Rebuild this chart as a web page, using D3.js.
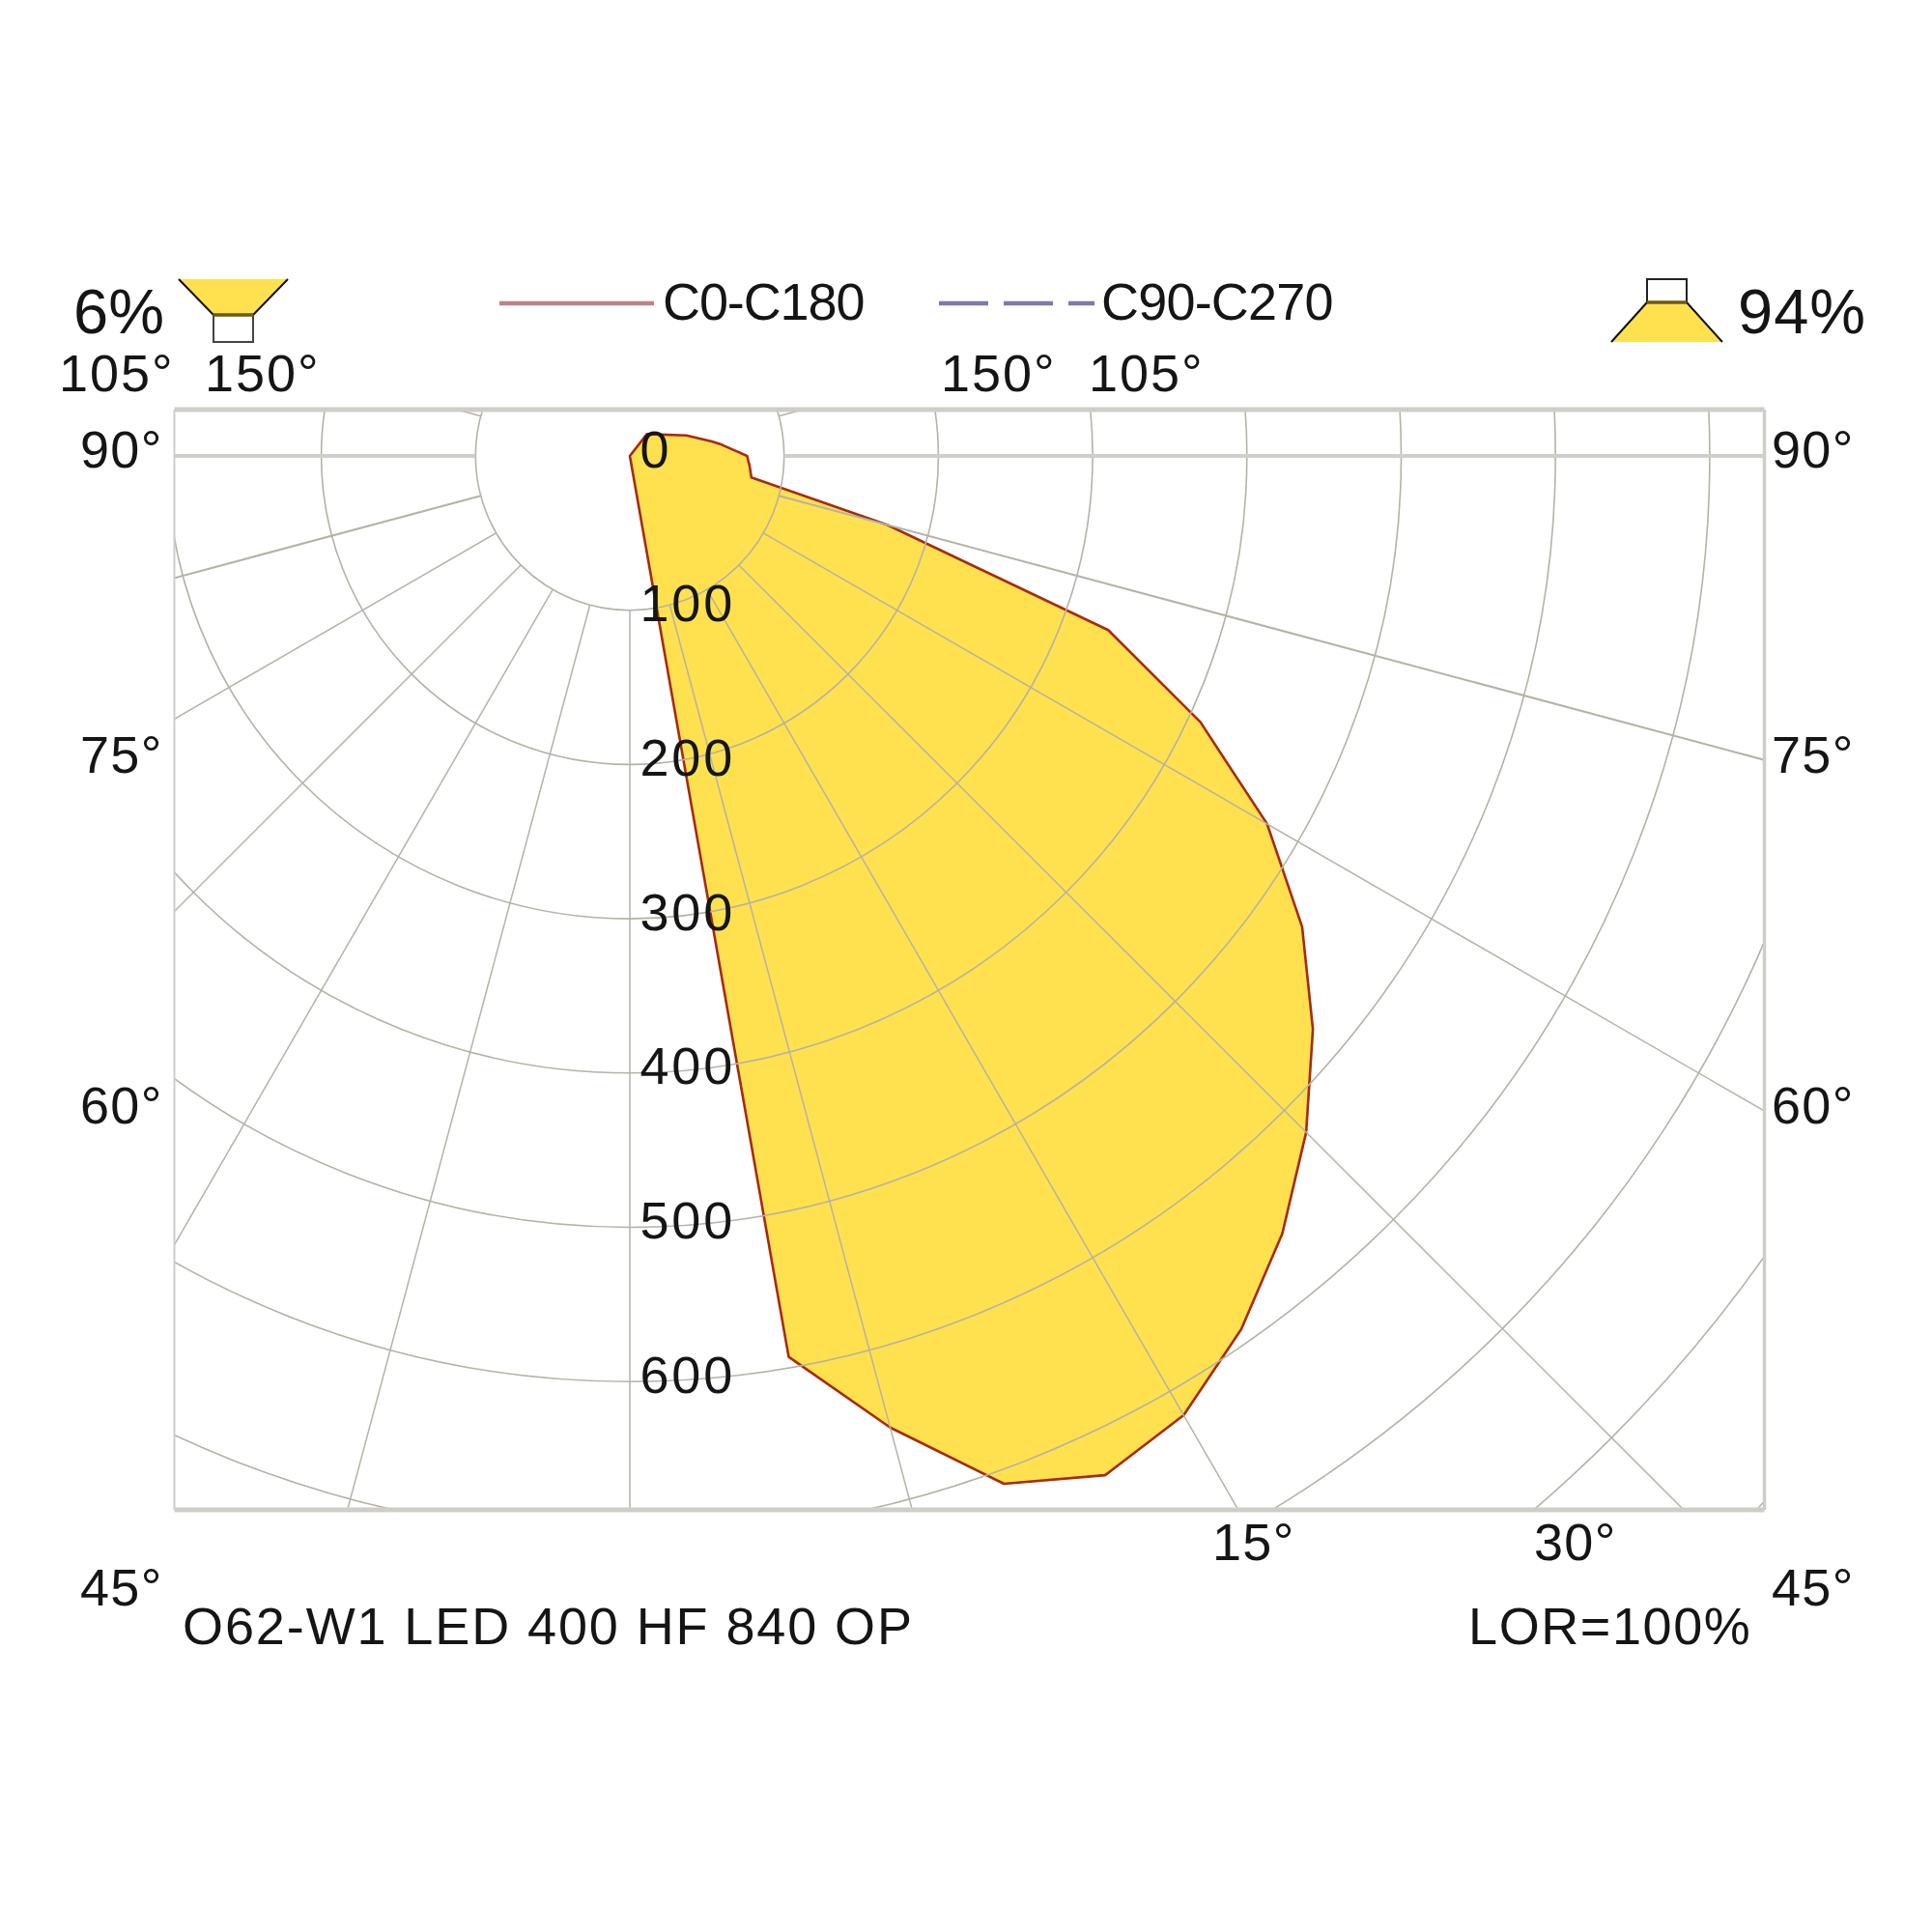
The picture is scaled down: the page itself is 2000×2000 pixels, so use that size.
<!DOCTYPE html>
<html><head><meta charset="utf-8">
<style>html,body{margin:0;background:#fff}svg{display:block}text{font-family:"Liberation Sans",Arial,sans-serif;fill:#151515}</style>
<script src="https://cdn.jsdelivr.net/npm/d3@7"></script></head><body>
<svg id="c" width="2000" height="2000"></svg>
<script>
const gammaDeg = [0,10,15,20,25,30,35,40,45,50,55,60,65,70,75,80,85,90,97,100,110,142,180];
const intensity = [0,593,652,709,729,718,691,658,620,578,532,477,408,330,173,80,78,76,60,54,39,18,0];
const ringValues = [100,200,300,400,500,600,700,800,900,1000];
const radialAngles = [-165,-150,-135,-120,-105,-90,-75,-60,-45,-30,-15,0,15,30,45,60,75,90,105,120,135,150,165];
const radialTicks = [0,100,200,300,400,500,600];
const leftAngleLabels = ["90°","75°","60°","45°"];

const cx = 652, cy = 472;
const frame = {x0:180.5, y0:424, x1:1826.5, y1:1563};
const r = d3.scaleLinear().domain([0,100]).range([0,159.7]);
const ang = d3.scaleLinear().domain([0,180]).range([Math.PI,0]);
const GRID = "#b5b2a6";
const svg = d3.select("#c");

svg.append("clipPath").attr("id","fr").append("rect")
  .attr("x",frame.x0).attr("y",frame.y0).attr("width",frame.x1-frame.x0).attr("height",frame.y1-frame.y0);

const plot = svg.append("g").attr("transform",`translate(${cx},${cy})`);
const poly = d3.lineRadial().angle((d,i)=>ang(gammaDeg[i])).radius((d)=>r(d)).curve(d3.curveLinearClosed);
plot.append("path").attr("d",poly(intensity)).attr("fill","#ffe14f");

const grid = svg.append("g").attr("clip-path","url(#fr)").append("g").attr("transform",`translate(${cx},${cy})`);
grid.selectAll("circle").data(ringValues).join("circle")
  .attr("r",d=>r(d)).attr("fill","none").attr("stroke",GRID).attr("stroke-width",1.6);
grid.selectAll("line").data(radialAngles).join("line")
  .attr("x1",d=>r(100)*Math.sin(d*Math.PI/180)).attr("y1",d=>-r(100)*Math.cos(Math.PI-d*Math.PI/180))
  .attr("x2",d=>r(1300)*Math.sin(d*Math.PI/180)).attr("y2",d=>-r(1300)*Math.cos(Math.PI-d*Math.PI/180))
  .attr("stroke",d=>Math.abs(d)===90?"#cfcecb":GRID)
  .attr("stroke-width",d=>Math.abs(d)===90?4:(Math.abs(d)===75?2:1.5));

const fr=[[frame.x0,frame.y0,frame.x1,frame.y0,5],[frame.x0,frame.y1,frame.x1,frame.y1,5],[frame.x0,frame.y0,frame.x0,frame.y1,2],[frame.x1,frame.y0,frame.x1,frame.y1,3.5]];
svg.append("g").selectAll("line").data(fr).join("line")
  .attr("x1",d=>d[0]).attr("y1",d=>d[1]).attr("x2",d=>d[2]).attr("y2",d=>d[3])
  .attr("stroke","#cfcdc8").attr("stroke-width",d=>d[4]);

plot.append("path").attr("d",poly(intensity)).attr("fill","none").attr("stroke","#a82a10").attr("stroke-width",2.6).attr("stroke-linejoin","round");

function t(x,y,s,fs,ls){svg.append("text").attr("x",x).attr("y",y).attr("font-size",fs).attr("letter-spacing",ls||0).text(s);}
const F=54;
radialTicks.forEach(v=>t(cx+10.5,cy+r(v)+11.5,String(v),F,v?2.8:0));
const leftY=[483.5,799.5,1162.5,1661.5];
leftAngleLabels.forEach((s,i)=>{t(83,leftY[i],s,F,1.3);t(1834,leftY[i],s,F,1.3);});
t(1255,1615,"15°",F,1.3); t(1588,1615,"30°",F,1.3);
t(61,404.5,"105°",F,2); t(212,404.5,"150°",F,2); t(974,404.5,"150°",F,2); t(1127,404.5,"105°",F,2);
t(686,331,"C0-C180",F,-1.1); t(1140,331,"C90-C270",F,-0.8);
t(76,345,"6%",65); t(1799,345,"94%",65,1);
t(189,1701.5,"O62-W1 LED 400 HF 840 OP",F,1.9); t(1520,1701.5,"LOR=100%",F,1.6);

svg.append("line").attr("x1",517).attr("x2",677).attr("y1",314).attr("y2",314).attr("stroke","#c08088").attr("stroke-width",4.5);
svg.append("line").attr("x1",972).attr("x2",1133).attr("y1",314).attr("y2",314).attr("stroke","#7c7ab0").attr("stroke-width",4.5).attr("stroke-dasharray","51 16");

svg.append("path").attr("d","M185 289L298 289L262 326L221 326Z").attr("fill","#ffe14f");
svg.append("path").attr("d","M185 289L221 326M298 289L262 326").attr("stroke","#111").attr("stroke-width",2).attr("fill","none");
svg.append("rect").attr("x",221).attr("y",326).attr("width",41).attr("height",28).attr("fill","#fff").attr("stroke","#444").attr("stroke-width",2);
svg.append("line").attr("x1",221).attr("x2",262).attr("y1",326).attr("y2",326).attr("stroke","#6b5a10").attr("stroke-width",3.5);
svg.append("path").attr("d","M1705 313L1746 313L1783 354L1668 354Z").attr("fill","#ffe14f");
svg.append("path").attr("d","M1705 313L1668 354M1746 313L1783 354").attr("stroke","#111").attr("stroke-width",2).attr("fill","none");
svg.append("rect").attr("x",1705).attr("y",289).attr("width",41).attr("height",24).attr("fill","#fff").attr("stroke","#222").attr("stroke-width",2);
svg.append("line").attr("x1",1705).attr("x2",1746).attr("y1",313).attr("y2",313).attr("stroke","#6b5a10").attr("stroke-width",3.5);
</script></body></html>
